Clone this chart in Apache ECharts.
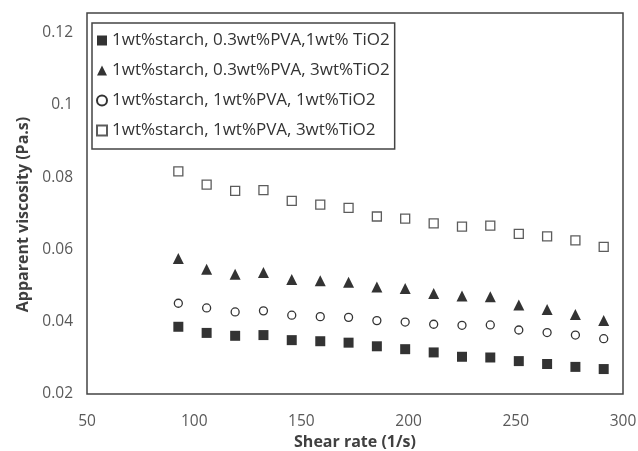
<!DOCTYPE html>
<html>
<head>
<meta charset="utf-8">
<script src="https://cdn.jsdelivr.net/npm/echarts@6/dist/echarts.min.js"></script>
<style>
  html, body { margin: 0; padding: 0; background: #fff; }
  #chart { width: 638px; height: 451px; }
</style>
</head>
<body>
<div id="chart"></div>
<script>
// shear rate (1/s)
var shearRate = [92.6, 105.8, 119.1, 132.3, 145.5, 158.8, 172.0, 185.2, 198.4, 211.7, 224.9, 238.1, 251.4, 264.6, 277.8, 291.0];

// apparent viscosity (Pa.s)
var pva03Tio1 = [0.0386, 0.0369, 0.0361, 0.0363, 0.0349, 0.0346, 0.0342, 0.0332, 0.0324, 0.0315, 0.0303, 0.0301, 0.0291, 0.0283, 0.0275, 0.0269];
var pva03Tio3 = [0.0575, 0.0545, 0.0531, 0.0536, 0.0517, 0.0513, 0.0509, 0.0496, 0.0492, 0.0478, 0.0471, 0.0469, 0.0446, 0.0434, 0.0420, 0.0403];
var pva1Tio1  = [0.0451, 0.0438, 0.0427, 0.0430, 0.0418, 0.0414, 0.0412, 0.0403, 0.0399, 0.0393, 0.0390, 0.0391, 0.0377, 0.0370, 0.0363, 0.0353];
var pva1Tio3  = [0.0816, 0.0779, 0.0762, 0.0764, 0.0734, 0.0724, 0.0715, 0.0691, 0.0685, 0.0672, 0.0663, 0.0666, 0.0643, 0.0636, 0.0625, 0.0607];

var seriesNames = [
    '1wt%starch, 0.3wt%PVA,1wt% TiO2',
    '1wt%starch, 0.3wt%PVA, 3wt%TiO2',
    '1wt%starch, 1wt%PVA, 1wt%TiO2',
    '1wt%starch, 1wt%PVA, 3wt%TiO2'
]

function pairs(ys) {
    return shearRate.map(function (x, i) { return [x, ys[i]] })
}

var font = 'Open Sans'
var chart = echarts.init(document.getElementById('chart'))

var option = {
    animation: false,
    grid: {
        left: 87, right: 15, top: 13, bottom: 57,
        outerBoundsMode: 'none',
        show: true,
        borderColor: '#444',
        borderWidth: 1.5
    },
    legend: {
        orient: 'vertical',
        left: 92, top: 23,
        padding: [9, 5, 10, 4],
        itemGap: 13,
        itemWidth: 10,
        itemHeight: 10,
        borderColor: '#444',
        borderWidth: 1.5,
        textStyle: { fontFamily: font, fontSize: 17, color: '#333' },
        data: seriesNames
    },
    xAxis: {
        type: 'value',
        min: 50, max: 300, interval: 50,
        name: 'Shear rate (1/s)',
        nameLocation: 'middle',
        nameGap: 35,
        nameTextStyle: { fontFamily: font, fontSize: 16, fontWeight: 'bold', color: '#404040' },
        axisLine: { show: false },
        axisTick: { show: false },
        splitLine: { show: false },
        axisLabel: { fontFamily: font, fontSize: 15.5, color: '#595959', margin: 20 }
    },
    yAxis: {
        type: 'value',
        min: 0.02, max: 0.1254, interval: 0.02,
        name: 'Apparent viscosity (Pa.s)',
        nameLocation: 'middle',
        nameGap: 56,
        nameTextStyle: { fontFamily: font, fontSize: 16, fontWeight: 'bold', color: '#404040', padding: [0, 22, 0, 0] },
        axisLine: { show: false },
        axisTick: { show: false },
        splitLine: { show: false },
        axisLabel: {
            fontFamily: font, fontSize: 15.5, color: '#595959', margin: 14,
            showMaxLabel: false,
            formatter: function (v) { return String(+v.toFixed(3)) }
        }
    },
    series: [
        {
            name: seriesNames[0], type: 'scatter', symbol: 'rect', symbolSize: 10,
            itemStyle: { color: '#000' },
            data: pairs(pva03Tio1)
        },
        {
            name: seriesNames[1], type: 'scatter', symbol: 'triangle', symbolSize: 11,
            itemStyle: { color: '#000' },
            data: pairs(pva03Tio3)
        },
        {
            name: seriesNames[2], type: 'scatter', symbol: 'circle', symbolSize: 8,
            itemStyle: { color: '#fff', borderColor: '#000', borderWidth: 1.3 },
            data: pairs(pva1Tio1)
        },
        {
            name: seriesNames[3], type: 'scatter', symbol: 'rect', symbolSize: 9,
            itemStyle: { color: '#fff', borderColor: '#333', borderWidth: 1.3 },
            data: pairs(pva1Tio3)
        }
    ]
}

chart.setOption(option)
</script>
</body>
</html>
